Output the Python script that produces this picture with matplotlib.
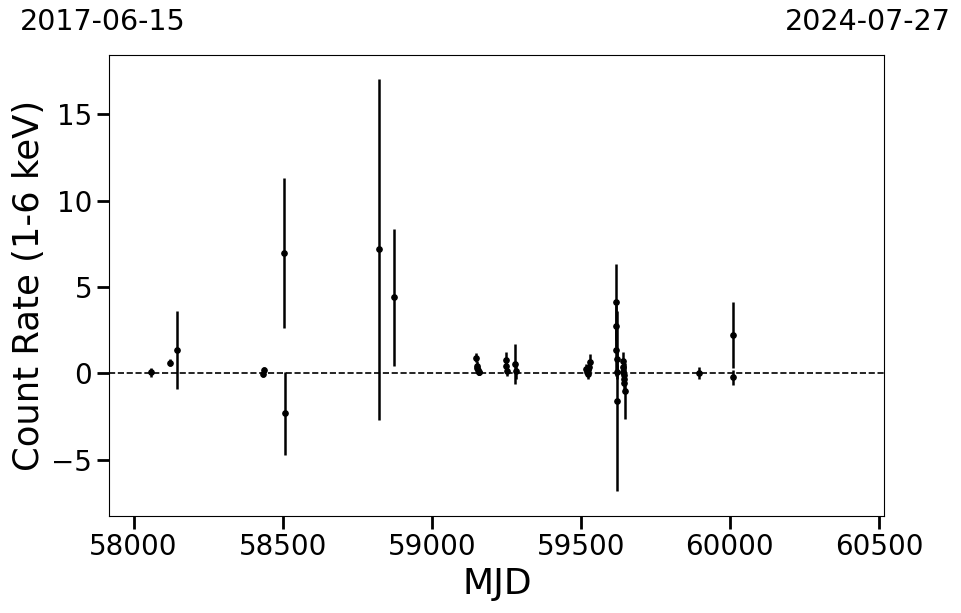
import matplotlib
matplotlib.use("Agg")
from matplotlib import pyplot as plt

# MJD, count rate (1-6 keV) and 1-sigma error
mjd = [58059, 58121, 58146, 58435, 58437, 58505, 58508, 58823, 58874,
       59150, 59151, 59152, 59154, 59157, 59160,
       59249, 59250, 59251, 59280, 59282,
       59519, 59521, 59523, 59525, 59529, 59532,
       59617, 59618, 59619, 59620, 59621, 59622,
       59641, 59642, 59643, 59644, 59645, 59646, 59647,
       59895, 60011, 60012]
rate = [0.05, 0.61, 1.35, -0.01, 0.19, 6.95, -2.32, 7.18, 4.40,
        0.90, 0.45, 0.29, 0.19, 0.10, 0.08,
        0.75, 0.45, 0.15, 0.55, 0.15,
        0.25, 0.10, -0.05, 0.20, 0.35, 0.65,
        4.15, 2.74, 1.35, 0.81, 0.09, -1.60,
        0.73, 0.38, 0.10, -0.10, -0.30, -0.58, -1.03,
        0.00, 2.22, -0.23]
err = [0.27, 0.20, 2.24, 0.20, 0.20, 4.35, 2.40, 9.87, 3.95,
       0.25, 0.25, 0.20, 0.20, 0.20, 0.20,
       0.50, 0.40, 0.30, 1.15, 0.50,
       0.30, 0.25, 0.25, 0.30, 0.30, 0.45,
       2.20, 1.20, 1.50, 0.60, 0.40, 5.20,
       0.50, 0.40, 0.30, 0.30, 0.35, 0.40, 1.63,
       0.35, 1.90, 0.45]

start_mjd, end_mjd = 57919, 60518
start_date, end_date = "2017-06-15", "2024-07-27"

fig = plt.figure(figsize=(9.62, 6.13), dpi=100)
ax = fig.add_axes([0.1138, 0.1582, 0.8054, 0.7521])

ax.errorbar(mjd, rate, yerr=err, fmt='o', color='k', ms=3.8, elinewidth=1.8,
            capsize=0, zorder=3)
ax.axhline(0, color='k', ls='--', lw=1.2, zorder=2)

ax.set_xlim(start_mjd, end_mjd)
ax.set_ylim(-8.26, 18.43)
ax.set_xticks([58000, 58500, 59000, 59500, 60000, 60500])
ax.set_yticks([-5, 0, 5, 10, 15])
ax.tick_params(labelsize=20, length=9, width=2)

ax.set_xlabel('MJD', fontsize=26)
ax.set_ylabel('Count Rate (1-6 keV)', fontsize=25.5)

fig.text(0.0208, 0.964, start_date, fontsize=20.5, ha='left', va='center')
fig.text(0.9885, 0.964, end_date, fontsize=20.5, ha='right', va='center')

fig.savefig('out.png', dpi=100)
